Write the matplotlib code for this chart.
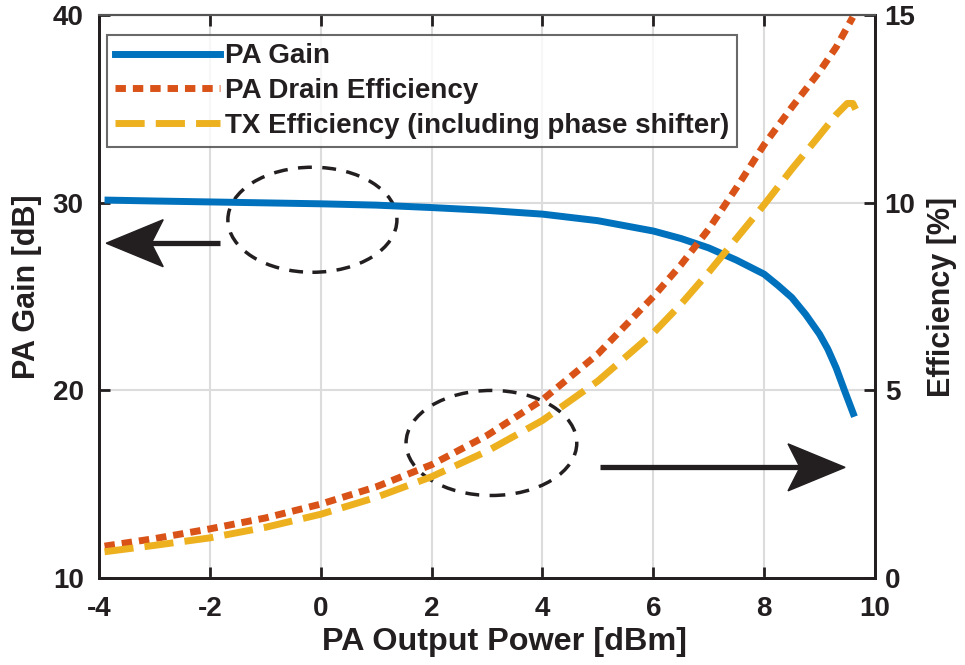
import matplotlib.pyplot as plt
import matplotlib.transforms as mtransforms
from matplotlib.patches import Ellipse, Polygon
from matplotlib.lines import Line2D

plt.rcParams['font.family'] = ['Liberation Sans', 'DejaVu Sans']
plt.rcParams['font.weight'] = 'bold'
plt.rcParams['axes.unicode_minus'] = False

# --- data ---
pout = [-3.9, -3, -2, -1, 0, 1, 2, 3, 4, 5, 6, 6.5, 7, 7.5, 8, 8.25, 8.5,
        8.75, 9, 9.15, 9.3, 9.45, 9.63]
gain = [30.15, 30.1, 30.05, 30.0, 29.95, 29.88, 29.75, 29.6, 29.4, 29.05,
        28.5, 28.1, 27.6, 26.95, 26.2, 25.6, 24.95, 24.05, 23.0, 22.2,
        21.2, 20.0, 18.6]

pout_de = [-3.9, -3, -2, -1, 0, 1, 2, 3, 4, 5, 6, 6.5, 7, 7.5, 8, 8.5, 9, 9.3, 9.6]
drain_eff = [0.85, 1.05, 1.31, 1.6, 1.97, 2.43, 3.02, 3.8, 4.75, 5.97, 7.5,
             8.35, 9.3, 10.4, 11.55, 12.55, 13.5, 14.15, 14.95]

pout_tx = [-3.9, -3, -2, -1, 0, 1, 2, 3, 4, 5, 6, 6.5, 7, 7.5, 8, 8.5, 9, 9.3, 9.5, 9.6, 9.7]
tx_eff = [0.7, 0.87, 1.07, 1.35, 1.7, 2.15, 2.7, 3.38, 4.2, 5.25, 6.53,
          7.3, 8.15, 9.05, 9.95, 10.9, 11.8, 12.35, 12.65, 12.65, 12.35]

blue = '#0072BD'
orange = '#D95319'
yellow = '#EDB120'
ink = '#231f20'


def arrow(ax, tail, tip, y, fig):
    # shaft in data coords, head as a fixed-size notched triangle (inches)
    d = 1 if tip > tail else -1
    ax.plot([tail, tip - d * 0.7], [y, y], color=ink, lw=3.8, solid_capstyle='butt')
    head = [(0, 0), (-0.57 * d, 0.235), (-0.45 * d, 0), (-0.57 * d, -0.235)]
    tr = fig.dpi_scale_trans + mtransforms.ScaledTranslation(tip, y, ax.transData)
    ax.add_patch(Polygon(head, closed=True, fc=ink, ec=ink, transform=tr))


fig = plt.figure(figsize=(9.65, 6.65), dpi=100)
ax = fig.add_axes([0.1026, 0.1308, 0.8041, 0.8462])
ax2 = ax.twinx()

ax.plot(pout, gain, color=blue, lw=5, solid_capstyle='butt')
ax2.plot(pout_de, drain_eff, color=orange, lw=5, linestyle=(0, (1.5, 1.0)))
ax2.plot(pout_tx, tx_eff, color=yellow, lw=5, linestyle=(0, (4.2, 1.6)))

ax.set_xlim(-4, 10)
ax.set_ylim(10, 40)
ax2.set_ylim(0, 15)
ax.set_xticks([-4, -2, 0, 2, 4, 6, 8, 10])
ax.set_yticks([10, 20, 30, 40])
ax2.set_yticks([0, 5, 10, 15])

ax.grid(True, color='#dcdcdc', lw=1.5)
ax.set_axisbelow(True)

for a in (ax, ax2):
    a.tick_params(direction='in', length=8, width=2, labelsize=20, pad=7,
                  colors=ink)
ax.tick_params(top=True)
ax.tick_params(axis='x', pad=13)
ax.tick_params(axis='y', pad=11)
for a in (ax, ax2):
    for s in ['left', 'bottom', 'right']:
        a.spines[s].set_linewidth(2)
        a.spines[s].set_color(ink)
    a.spines['top'].set_color('#555555')
    a.spines['top'].set_linewidth(1.5)

ax.set_xlabel('PA Output Power [dBm]', fontsize=23.3, fontweight='bold', color=ink)
ax.set_ylabel('PA Gain [dB]', fontsize=22, fontweight='bold', color=ink)
ax2.set_ylabel('Efficiency [%]', fontsize=22, fontweight='bold', labelpad=8,
               color=ink)
ax.xaxis.set_label_coords(0.522, -0.087)
ax.yaxis.set_label_coords(-0.0735, 0.517)

# annotation ellipses and arrows
ax.add_patch(Ellipse((-0.15, 29.1), 3.05, 5.6, fill=False, ec=ink,
                     lw=2.5, ls=(0, (4, 3))))
ax.add_patch(Ellipse((3.08, 17.2), 3.08, 5.6, fill=False, ec=ink,
                     lw=2.5, ls=(0, (4, 3))))
arrow(ax, -1.82, -3.87, 27.85, fig)
arrow(ax, 5.04, 9.46, 15.9, fig)

handles = [Line2D([], [], color=blue, lw=5),
           Line2D([], [], color=orange, lw=5, linestyle=(0, (1.5, 1.0))),
           Line2D([], [], color=yellow, lw=5, linestyle=(0, (4.2, 1.6)))]
labels = ['PA Gain', 'PA Drain Efficiency', 'TX Efficiency (including phase shifter)']
leg = ax2.legend(handles, labels, loc='upper left', bbox_to_anchor=(0.0103, 0.965),
                 fontsize=20, frameon=True, fancybox=False, handlelength=3.75,
                 handletextpad=0.18, labelspacing=0.31, borderpad=0.3,
                 borderaxespad=0)
leg.get_frame().set_edgecolor('#444444')
leg.get_frame().set_linewidth(1.5)
for t in leg.get_texts():
    t.set_fontweight('bold')
    t.set_color(ink)

fig.savefig('out.png', dpi=100)
